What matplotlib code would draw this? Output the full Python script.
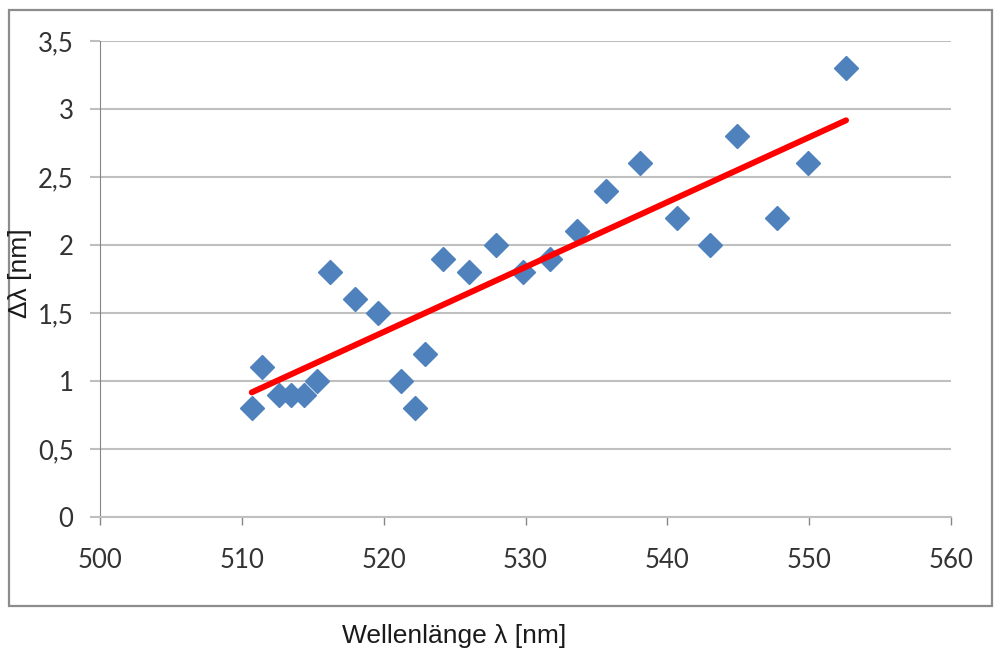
import numpy as np
import matplotlib.pyplot as plt
from matplotlib.ticker import FuncFormatter, MultipleLocator
from matplotlib.patches import Rectangle

# wavelength [nm] and linewidth [nm]
wavelength = [510.7, 511.4, 512.6, 513.5, 514.4, 515.3, 516.2, 518.0, 519.6,
              521.2, 522.2, 522.9, 524.2, 526.0, 527.9, 529.8, 531.7, 533.6,
              535.7, 538.1, 540.7, 543.0, 544.9, 547.7, 549.9, 552.6]
delta = [0.8, 1.1, 0.9, 0.9, 0.9, 1.0, 1.8, 1.6, 1.5,
         1.0, 0.8, 1.2, 1.9, 1.8, 2.0, 1.8, 1.9, 2.1,
         2.4, 2.6, 2.2, 2.0, 2.8, 2.2, 2.6, 3.3]

blue = '#4F81BD'
grey = '#BFBFBF'

fig = plt.figure(figsize=(9.94, 6.53), dpi=100)
ax = fig.add_axes([100 / 994, 1 - 517 / 653, 851 / 994, 476 / 653])

ax.set_xlim(500, 560)
ax.set_ylim(0, 3.5)
ax.xaxis.set_major_locator(MultipleLocator(10))
ax.yaxis.set_major_locator(MultipleLocator(0.5))
comma = FuncFormatter(lambda v, p: ('%g' % v).replace('.', ','))
ax.xaxis.set_major_formatter(comma)
ax.yaxis.set_major_formatter(comma)

ax.grid(axis='y', color=grey, linewidth=1.5)
ax.set_axisbelow(True)
for s in ['top', 'right']:
    ax.spines[s].set_visible(False)
ax.spines['left'].set_color('#868686')
ax.spines['bottom'].set_color(grey)
ax.spines['bottom'].set_linewidth(1.5)
ax.tick_params(axis='y', length=7, color=grey, width=1.5, pad=12,
               labelsize=18.5, labelcolor='#333333')
ax.tick_params(axis='x', length=6, color='#868686', width=1,
               pad=16, labelsize=18.5, labelcolor='#333333')
for lab in ax.get_xticklabels() + ax.get_yticklabels():
    lab.set_family('Lato')

ax.plot(wavelength, delta, 'D', color=blue, markersize=12, zorder=3)

# linear trend line
k, d = np.polyfit(wavelength, delta, 1)
xs = np.array([min(wavelength), max(wavelength)])
ax.plot(xs, k * xs + d, color='red', linewidth=4.3, solid_capstyle='round', zorder=4)

fig.text(20 / 994, 1 - 273 / 653, 'Δλ [nm]', rotation=90, ha='center', va='center',
         fontsize=19, family='Liberation Sans', color='#1a1a1a')
fig.text(454 / 994, 1 - 636 / 653, 'Wellenlänge λ [nm]', ha='center', va='center',
         fontsize=19, family='Liberation Sans', color='#1a1a1a')

fig.patches.append(Rectangle((9 / 994, 1 - 606 / 653), 983 / 994, 596 / 653,
                             transform=fig.transFigure, fill=False,
                             edgecolor='#8C8C8C', linewidth=1.6))

fig.savefig('out.png')
